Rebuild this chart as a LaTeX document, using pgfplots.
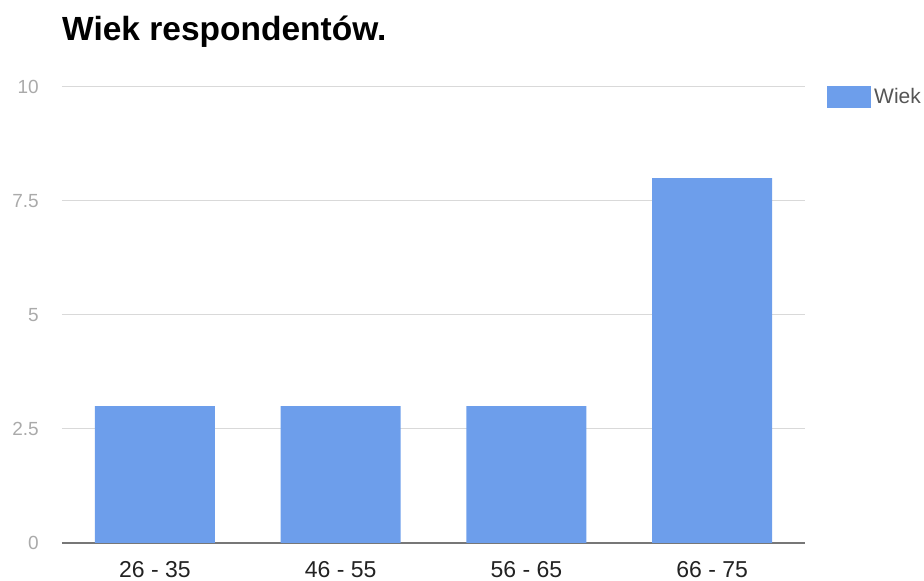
\documentclass[border=0pt]{standalone}
\usepackage{fontspec}
\setmainfont{Liberation Sans}
\usepackage{pgfplots}
\pgfplotsset{compat=1.18}
\definecolor{barblue}{HTML}{6D9EEB}
\definecolor{gridgray}{HTML}{D9D9D9}
\definecolor{axisgray}{HTML}{777777}
\definecolor{ticklab}{HTML}{AAAAAA}
\definecolor{xlab}{HTML}{222222}
\definecolor{leglab}{HTML}{555555}
\begin{document}
\begin{tikzpicture}[x=1pt,y=1pt]
\path[use as bounding box] (0,0) rectangle (924,581);
\begin{axis}[
  at={(62pt,38pt)}, anchor=south west,
  width=743pt, height=456pt, scale only axis,
  xmin=-0.5, xmax=3.5, ymin=0, ymax=10,
  ybar, bar width=120pt,
  xtick={0,1,2,3},
  xticklabels={26 - 35,46 - 55,56 - 65,66 - 75},
  ytick={0,2.5,5,7.5,10},
  yticklabels={0,2.5,5,7.5,10},
  major tick length=0pt,
  ymajorgrids,
  grid style={draw=gridgray, line width=1pt},
  axis x line*=bottom, axis y line*=left,
  x axis line style={draw=axisgray, line width=1.3pt, -},
  y axis line style={draw=none},
  xticklabel style={inner sep=0pt, yshift=-18pt, font=\fontsize{23}{23}\selectfont, text=xlab},
  yticklabel style={anchor=east, inner sep=0pt, xshift=-23pt, font=\fontsize{19}{19}\selectfont, text=ticklab},
  legend style={at={(axis description cs:1.0296,0.978)}, anchor=west, draw=none, fill=none,
    inner sep=0pt, font=\fontsize{21}{21}\selectfont, text=leglab,
    nodes={inner sep=3pt}},
  legend image code/.code={\fill[#1] (0pt,-11pt) rectangle (44pt,11pt);},
  clip=false,
]
\addplot[fill=barblue, draw=none] coordinates {(0,3) (1,3) (2,3) (3,8)};
\addlegendentry{Wiek}
\end{axis}
\node[anchor=base west, inner sep=0pt, font=\fontsize{33.5}{33.5}\selectfont\bfseries] at (62,540) {Wiek respondentów.};
\end{tikzpicture}
\end{document}
